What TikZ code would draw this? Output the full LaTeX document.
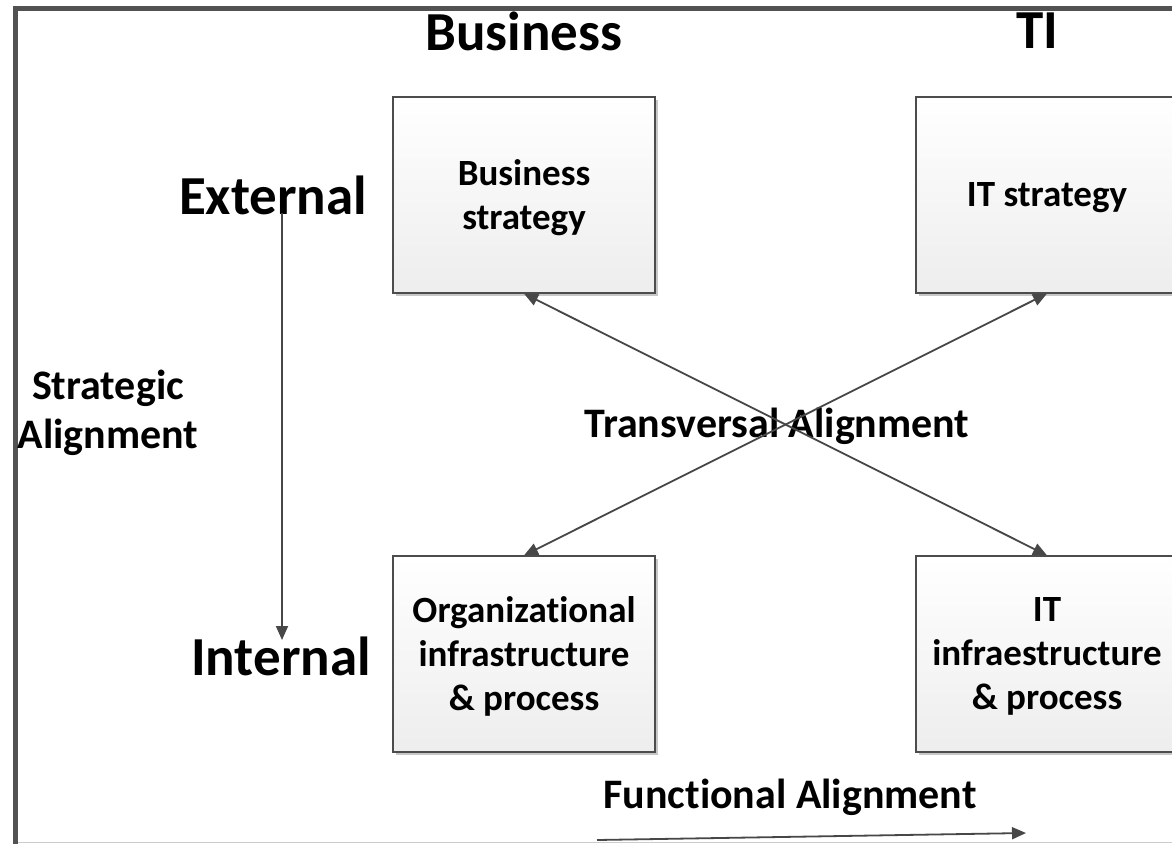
\documentclass[tikz,border=0pt]{standalone}
\usepackage{fontspec}
\setmainfont{Carlito}[Ligatures=NoCommon]
\usetikzlibrary{arrows.meta,shadows}
\begin{document}
\begin{tikzpicture}[x=1pt,y=-1pt,
  box/.style={draw=black!70, line width=1.2pt, top color=white, bottom color=black!7,
    minimum width=262pt, minimum height=196pt, align=center, inner sep=0pt,
    font=\fontsize{37}{44}\selectfont\bfseries,
    drop shadow={shadow xshift=3pt,shadow yshift=-3pt,fill=black!22,opacity=1}},
  boxtext/.style={inner sep=0pt, align=center, font=\fontsize{37}{44}\selectfont\bfseries},
  title/.style={inner sep=0pt, font=\fontsize{55}{66}\selectfont\bfseries},
  label/.style={inner sep=0pt, align=center, font=\fontsize{42}{49}\selectfont\bfseries},
  conn/.style={draw=black!72, line width=1.8pt, -{Triangle[length=14pt,width=12pt]}},
  conn2/.style={draw=black!72, line width=1.8pt, {Triangle[length=14pt,width=12pt]}-{Triangle[length=14pt,width=12pt]}}
]
\useasboundingbox (0,0) rectangle (1172,843);
\clip (0,0) rectangle (1172,843);
\fill[white] (0,0) rectangle (1172,843);
% frame
\draw[black!20, line width=1pt] (15,842) -- (1180,842);
\draw[black!68, line width=5pt] (15,860) -- (15,8.5) -- (1180,8.5);

% boxes
\node[box] (bs) at (524,195) {};
\node[box] (its) at (1047,195) {};
\node[box] (org) at (524,654) {};
\node[box] (iti) at (1047,654) {};
\node[boxtext] (bst) at (524,198) {Business\\strategy};
\node[boxtext] (itst) at (1047,198) {IT strategy};
\node[boxtext] (orgt) at (524,656) {Organizational\\infrastructure\\\& process};
\node[boxtext] (itit) at (1047,656) {IT\\infraestructure\\\& process};

% titles
\node[title] (tbus) at (524,31) {Business};
\node[title] (tti) at (1037,31) {TI};
\node[title] (ext) at (273,195) {External};
\node[title] (int) at (281,656) {Internal};

% labels
\node[label] (sal) at (108,413) {Strategic\\Alignment};
\node[label] (tal) at (777,426) {Transversal Alignment};
\node[label] (fal) at (790,797) {Functional Alignment};

% connectors
\coordinate (sa1) at (282,213);
\coordinate (sa2) at (282,640);
\draw[conn] (sa1) -- (sa2);
\draw[conn2] (org.north) -- (its.south);
\draw[conn2] (bs.south) -- (iti.north);
\coordinate (fa1) at (597,840);
\coordinate (fa2) at (1026,833);
\draw[conn] (fa1) -- (fa2);
\end{tikzpicture}
\end{document}
